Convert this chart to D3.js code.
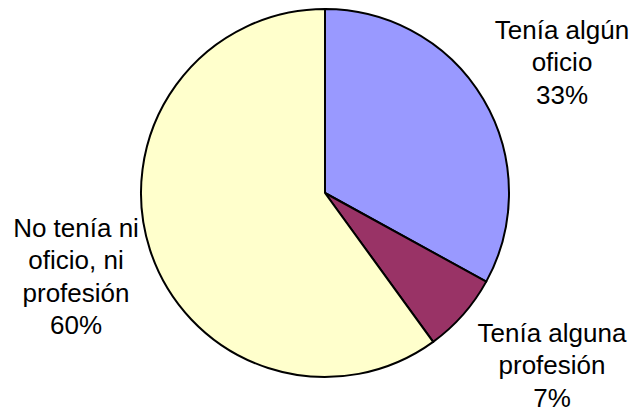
<!DOCTYPE html>
<html><head><meta charset="utf-8">
<script src="https://cdn.jsdelivr.net/npm/d3@7"></script>
<style>body{margin:0;background:#fff}svg{display:block}</style>
</head><body>
<script>
const categories = ["Tenía algún oficio", "Tenía alguna profesión", "No tenía ni oficio, ni profesión"];
const values = [33, 7, 60];
const labelLines = [["Tenía algún", "oficio", "33%"], ["Tenía alguna", "profesión", "7%"], ["No tenía ni", "oficio, ni", "profesión", "60%"]];
const colors = ["#9999FF", "#993366", "#FFFFCC"];

const W = 643, H = 415, cx = 325, cy = 193, R = 184;
const labelPos = [[562, 39], [552, 342], [76, 237]];
const svg = d3.select("body").append("svg").attr("width", W).attr("height", H);
const pie = d3.pie().sort(null).value(d => d)(values);
const arc = d3.arc().innerRadius(0).outerRadius(R);
const g = svg.append("g").attr("transform", `translate(${cx},${cy})`);
g.selectAll("path").data(pie).join("path")
  .attr("d", arc).attr("fill", (d, i) => colors[i])
  .attr("stroke", "#000").attr("stroke-width", 2).attr("stroke-linejoin", "round");

labelLines.forEach((lines, i) => {
  const t = svg.append("text").attr("text-anchor", "middle")
    .attr("font-family", "Liberation Sans, Arial, sans-serif").attr("font-size", 26).attr("fill", "#000");
  lines.forEach((l, j) => t.append("tspan").attr("x", labelPos[i][0]).attr("y", labelPos[i][1] + j * 32.3).text(l));
});
</script>
</body></html>
